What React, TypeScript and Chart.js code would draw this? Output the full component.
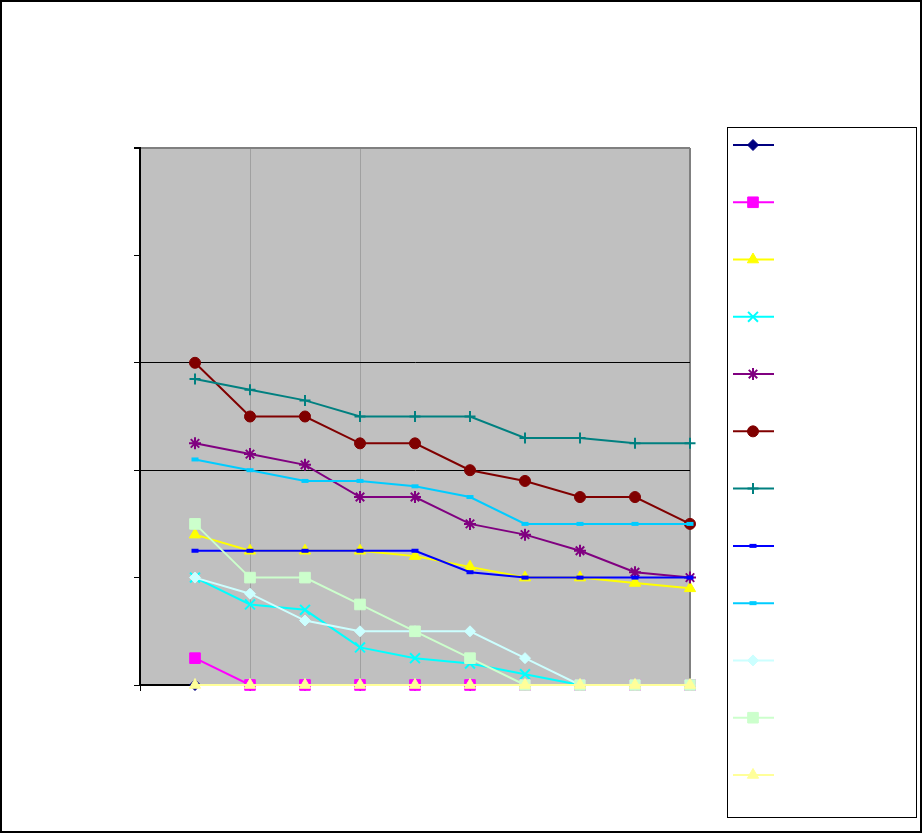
import React, { useEffect, useRef } from "react";
import { Chart, registerables } from "chart.js";
import { drawPoint } from "chart.js/helpers";

Chart.register(...registerables);

const xPositions = [1, 2, 3, 4, 5, 6, 7, 8, 9, 10];
const seriesNames = [
  "Series 1", "Series 2", "Series 3", "Series 4", "Series 5", "Series 6",
  "Series 7", "Series 8", "Series 9", "Series 10", "Series 11", "Series 12",
];
const s1 = [0, 0, 0, 0, 0, 0, 0, 0, 0, 0];
const s2 = [0.25, 0, 0, 0, 0, 0, 0, 0, 0, 0];
const s3 = [1.4, 1.25, 1.25, 1.25, 1.2, 1.1, 1.0, 1.0, 0.95, 0.9];
const s4 = [1.0, 0.75, 0.7, 0.35, 0.25, 0.2, 0.1, 0, 0, 0];
const s5 = [2.25, 2.15, 2.05, 1.75, 1.75, 1.5, 1.4, 1.25, 1.05, 1.0];
const s6 = [3.0, 2.5, 2.5, 2.25, 2.25, 2.0, 1.9, 1.75, 1.75, 1.5];
const s7 = [2.85, 2.75, 2.65, 2.5, 2.5, 2.5, 2.3, 2.3, 2.25, 2.25];
const s8 = [1.25, 1.25, 1.25, 1.25, 1.25, 1.05, 1.0, 1.0, 1.0, 1.0];
const s9 = [2.1, 2.0, 1.9, 1.9, 1.85, 1.75, 1.5, 1.5, 1.5, 1.5];
const s10 = [1.0, 0.85, 0.6, 0.5, 0.5, 0.5, 0.25, 0, 0, 0];
const s11 = [1.5, 1.0, 1.0, 0.75, 0.5, 0.25, 0, 0, 0, 0];
const s12 = [0, 0, 0, 0, 0, 0, 0, 0, 0, 0];
const seriesValues = [s1, s2, s3, s4, s5, s6, s7, s8, s9, s10, s11, s12];

const colors = [
  "#000080", "#FF00FF", "#FFFF00", "#00FFFF", "#800080", "#800000",
  "#008080", "#0000FF", "#00CCFF", "#CCFFFF", "#CCFFCC", "#FFFF99",
];
const styles = [
  "rectRot", "rect", "triangle", "crossRot", "star", "circle",
  "cross", "line", "line", "rectRot", "rect", "triangle",
];
const radii = [5.5, 7.5, 6.5, 7, 6, 5.5, 5.5, 3.5, 3.5, 5.5, 7.5, 6.5];
const pointBorders = [1, 1, 1, 2, 2, 1, 2, 4, 4, 1, 1, 1];

const PLOT_BG = "#C0C0C0";

const bgPlugin = {
  id: "bg",
  beforeDraw(chart: any) {
    const { ctx, chartArea: a } = chart;
    ctx.save();
    ctx.fillStyle = "#ffffff";
    ctx.fillRect(0, 0, chart.width, chart.height);
    ctx.fillStyle = PLOT_BG;
    ctx.fillRect(a.left, a.top, a.right - a.left, a.bottom - a.top);
    ctx.restore();
  },
  afterDraw(chart: any) {
    const { ctx } = chart;
    ctx.save();
    ctx.strokeStyle = "#000";
    ctx.lineWidth = 2;
    ctx.strokeRect(1, 1, chart.width - 2, chart.height - 2);
    ctx.lineWidth = 1;
    ctx.strokeRect(727.5, 127.5, 189, 690);
    chart.data.datasets.forEach((ds: any, i: number) => {
      const y = 145 + i * 57.27;
      ctx.strokeStyle = ds.borderColor;
      ctx.lineWidth = ds.borderWidth;
      ctx.beginPath();
      ctx.moveTo(733, y);
      ctx.lineTo(774, y);
      ctx.stroke();
      ctx.fillStyle = ds.pointBackgroundColor;
      ctx.strokeStyle = ds.pointBorderColor;
      ctx.lineWidth = ds.pointBorderWidth;
      drawPoint(
        ctx,
        {
          pointStyle: ds.pointStyle,
          rotation: 0,
          radius: ds.pointRadius,
          borderWidth: ds.pointBorderWidth,
        } as any,
        753,
        y
      );
    });
    ctx.restore();
  },
};

export default function App() {
  const ref = useRef<HTMLCanvasElement>(null);
  useEffect(() => {
    document.body.style.margin = "0";
    const datasets = seriesValues.map((vals, i) => ({
      label: seriesNames[i],
      data: vals.map((v, j) => ({ x: xPositions[j], y: v })),
      borderColor: colors[i],
      backgroundColor: colors[i],
      borderWidth: 2,
      pointStyle: styles[i],
      pointRadius: radii[i],
      pointBackgroundColor: colors[i],
      pointBorderColor: colors[i],
      pointBorderWidth: pointBorders[i],
      tension: 0,
      clip: false,
      order: seriesValues.length - 1 - i,
    }));
    const chart = new Chart(ref.current!, {
      type: "line",
      data: { datasets },
      options: {
        responsive: false,
        animation: false,
        layout: { padding: { left: 134, top: 148, right: 232, bottom: 142 } },
        plugins: { legend: { display: false }, tooltip: { enabled: false } },
        scales: {
          x: {
            type: "linear",
            min: 0,
            max: 10,
            ticks: { display: false, stepSize: 2 },
            grid: {
              color: (c: any) => {
                const v = c.tick ? c.tick.value : null;
                if (v === 2 || v === 4) return "#A0A0A0";
                if (v === 10) return "#808080";
                return "rgba(0,0,0,0)";
              },
              tickColor: "#000",
              tickLength: 6,
              lineWidth: (c: any) => (c.tick && c.tick.value === 10 ? 2 : 1),
            },
            border: { display: true, color: "#000", width: 2 },
          },
          y: {
            min: 0,
            max: 5,
            ticks: { display: false, stepSize: 1 },
            grid: {
              color: (c: any) => {
                const v = c.tick ? c.tick.value : null;
                if (v === 2 || v === 3) return "#000";
                if (v === 5) return "#808080";
                return "rgba(0,0,0,0)";
              },
              tickColor: "#000",
              tickLength: 6,
              lineWidth: (c: any) => (c.tick && c.tick.value === 5 ? 2 : 1),
            },
            border: { display: true, color: "#000", width: 2 },
          },
        },
      },
      plugins: [bgPlugin],
    } as any);
    return () => chart.destroy();
  }, []);
  return (
    <div style={{ position: "absolute", left: 0, top: 0, width: 922, height: 833 }}>
      <canvas ref={ref} width={922} height={833} />
    </div>
  );
}
